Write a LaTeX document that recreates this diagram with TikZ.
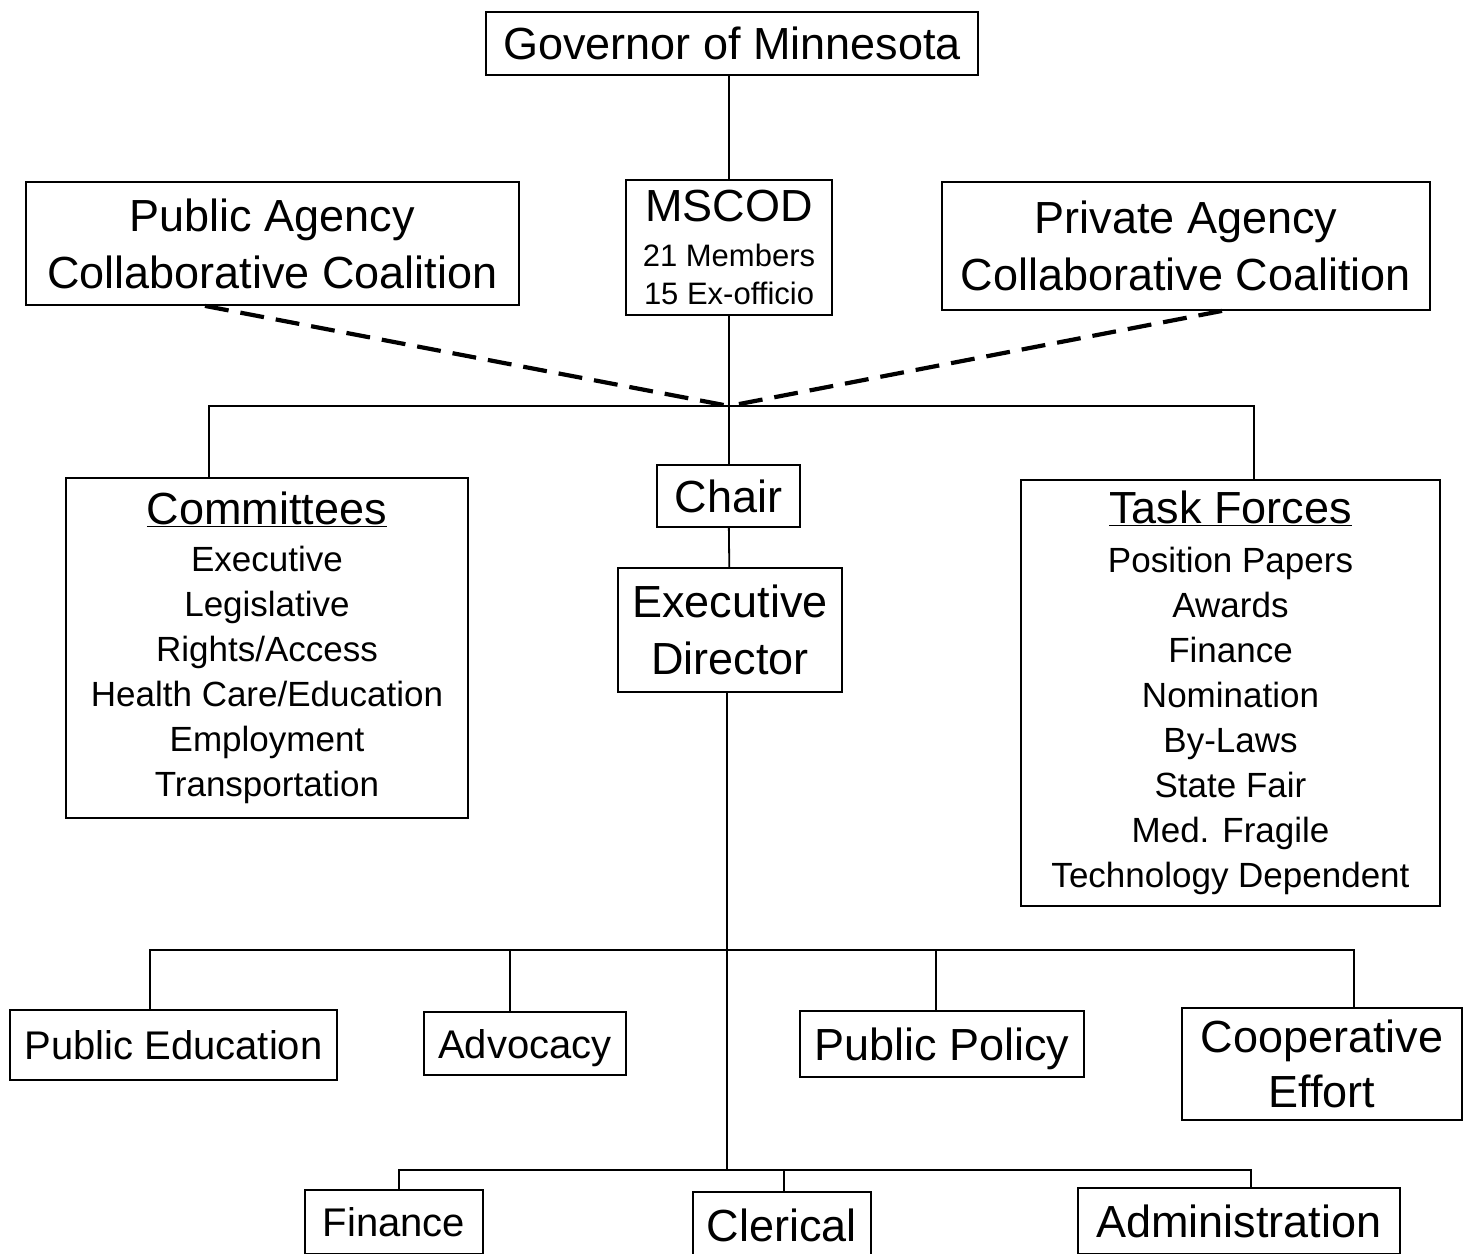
\documentclass[tikz,border=0pt]{standalone}
\usepackage{fontspec}
\setmainfont{Liberation Sans}
\usetikzlibrary{positioning,calc}

\begin{document}
\begin{tikzpicture}[x=1pt, y=-1pt,
  box/.style={rectangle, draw=black, line width=1.8pt, inner sep=0pt,
    align=center, font=\fontsize{45}{57}\selectfont},
  onebox/.style={box, text height=32pt, text depth=0pt},
  smallbox/.style={box, font=\fontsize{40}{50}\selectfont, text height=29pt, text depth=0pt},
  listbox/.style={box, font=\fontsize{35}{45}\selectfont},
  link/.style={black, line width=1.8pt},
  bar/.style={black, line width=2.4pt},
  tie/.style={black, line width=4.2pt, dash pattern=on 24pt off 12pt}
]
\useasboundingbox (0,0) rectangle (1469,1253);
\clip (0,0) rectangle (1469,1253);

% Top of the chart
\node[onebox, minimum width=492, minimum height=63] (gov) at (732,43.5) {Governor of Minnesota};
\node[box, minimum width=493, minimum height=123] (pub) at (272.5,243.5) {Public Agency\\Collaborative Coalition};
\node[box, minimum width=206, minimum height=135, font=\fontsize{31}{38}\selectfont] (mscod) at (729,247.5)
  {{\fontsize{45}{45}\selectfont MSCOD}\\[7pt]21 Members\\15 Ex-officio};
\node[box, minimum width=488, minimum height=128] (priv) at (1186,246) {Private Agency\\Collaborative Coalition};

\coordinate (hub) at (729,406);

% Committees, chair and task forces
\node[listbox, minimum width=402, minimum height=340] (comm) at (267,648)
  {{\fontsize{45}{45}\selectfont\underline{Committees}}\\[2pt]
   Executive\\Legislative\\Rights/Access\\Health Care/Education\\Employment\\Transportation};
\node[onebox, minimum width=143, minimum height=62] (chair) at (728.5,496) {Chair};
\node[box, minimum width=224, minimum height=124] (exec) at (730,630) {Executive\\Director};
\node[listbox, minimum width=419, minimum height=426] (task) at (1230.5,693)
  {{\fontsize{45}{45}\selectfont\underline{Task Forces}}\\[4pt]
   Position Papers\\Awards\\Finance\\Nomination\\By-Laws\\State Fair\\Med. Fragile\\Technology Dependent};

\draw[link] (mscod.north) -- (mscod.north |- gov.south);
\draw[link] (mscod.south) -- (mscod.south |- chair.north);
\draw[bar] ([xshift=-58]comm.north) |- (hub) -| ([xshift=23.5]task.north);
\draw[tie] ([xshift=-67.5]pub.south) -- (hub);
\draw[tie] ([xshift=36]priv.south) -- (hub);
\draw[link] (chair) -- (exec);

% Programme areas
\coordinate (hub2) at (727,950);
\coordinate (hub3) at (727,1170);
\node[smallbox, minimum width=327, minimum height=70] (pubed) at (173.5,1045) {Public Education};
\node[smallbox, minimum width=202, minimum height=63] (advo) at (525,1043.5) {Advocacy};
\node[onebox, minimum width=284, minimum height=66] (policy) at (942,1044) {Public Policy};
\node[box, minimum width=280, minimum height=112, font=\fontsize{45}{55}\selectfont] (coop) at (1322,1064) {Cooperative\\Effort};

\coordinate (advo top) at ([xshift=-15]advo.north);
\coordinate (policy top) at ([xshift=-6]policy.north);
\draw[link] (exec.south -| hub2) -- (hub3);
\draw[bar] ([xshift=-23.5]pubed.north) |- (hub2) -| ([xshift=32]coop.north);
\draw[link] (advo top) -- (advo top |- hub2);
\draw[link] (policy top) -- (policy top |- hub2);

% Staff
\node[smallbox, minimum width=178, minimum height=64] (fin) at (394,1222) {Finance};
\node[onebox, minimum width=178, minimum height=66] (cler) at (782,1225) {Clerical};
\node[onebox, minimum width=322, minimum height=66] (admin) at (1239,1221) {Administration};

\coordinate (cler top) at ([xshift=2]cler.north);
\draw[bar] ([xshift=5]fin.north) |- (hub3) -| ([xshift=12]admin.north);
\draw[link] (cler top) -- (cler top |- hub3);

\end{tikzpicture}
\end{document}
